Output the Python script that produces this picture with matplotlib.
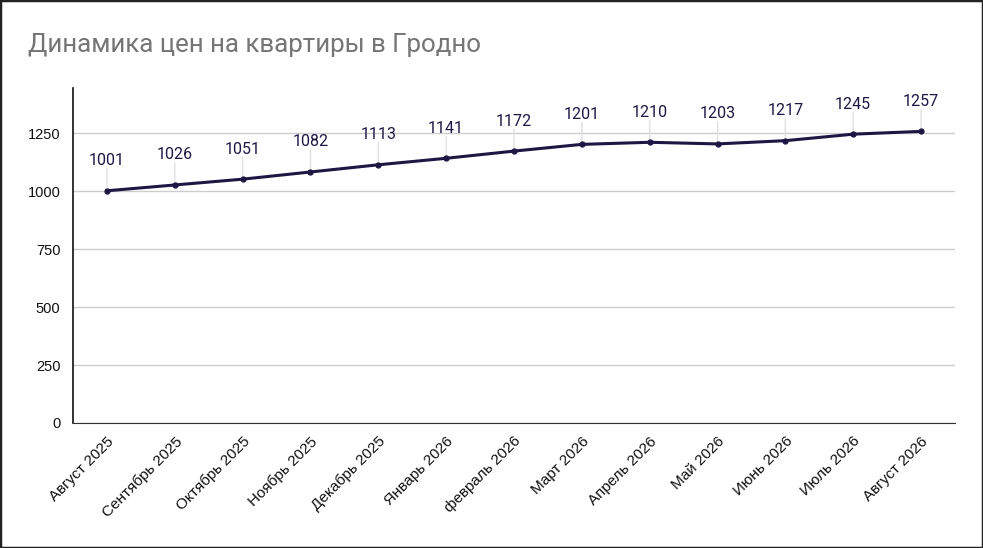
import matplotlib
matplotlib.use("Agg")
import matplotlib.pyplot as plt
from matplotlib.patches import Rectangle

months = ["Август 2025", "Сентябрь 2025", "Октябрь 2025", "Ноябрь 2025", "Декабрь 2025",
          "Январь 2026", "февраль 2026", "Март 2026", "Апрель 2026", "Май 2026",
          "Июнь 2026", "Июль 2026", "Август 2026"]
prices = [1001, 1026, 1051, 1082, 1113, 1141, 1172, 1201, 1210, 1203, 1217, 1245, 1257]
yticks = [0, 250, 500, 750, 1000, 1250]

W, H = 983, 548
fig = plt.figure(figsize=(W/100, H/100), dpi=100)
fig.patch.set_facecolor("white")
fig.add_artist(Rectangle((0, 0), 1, 1, transform=fig.transFigure, fill=False,
                         edgecolor="#222222", linewidth=2.5))

left, right, top, bottom = 73, 955, 88, 423
ax = fig.add_axes([left/W, (H-bottom)/H, (right-left)/W, (bottom-top)/H])

x = list(range(len(months)))
line_color = "#1e1744"
ax.plot(x, prices, color=line_color, linewidth=2.2, marker="o", markersize=3.5, zorder=4)

ax.set_xlim(-0.5, len(months)-0.5)
ax.set_ylim(0, 1444)
ax.set_yticks(yticks)
ax.set_yticklabels([str(v) for v in yticks], fontfamily="Liberation Sans", fontsize=10.5, color="#111111")
ax.grid(axis="y", color="#cccccc", linewidth=1)
ax.set_axisbelow(True)
ax.set_xticks(x)
ax.set_xticklabels(months, rotation=45, ha="right", rotation_mode="anchor",
                   fontfamily="Liberation Sans", fontsize=11, color="#111111")
ax.tick_params(axis="both", length=0)
ax.tick_params(axis="x", pad=8)
ax.tick_params(axis="y", pad=9)
for s in ["top", "right"]:
    ax.spines[s].set_visible(False)
ax.spines["left"].set_color("#111111")
ax.spines["bottom"].set_color("#333333")
ax.spines["left"].set_linewidth(1.2)

for xi, v in zip(x, prices):
    ax.annotate("", xy=(xi, v), xytext=(0, 22), textcoords="offset pixels",
                arrowprops=dict(arrowstyle="-", color="#e0e0e0", lw=1, shrinkA=0, shrinkB=0), zorder=2)
    ax.annotate(str(v), xy=(xi, v), xytext=(0, 30), textcoords="offset pixels",
                ha="center", va="center", fontfamily="Roboto", fontsize=11.5, color="#1e1744", zorder=5)

fig.text(28/W, 1-45/H, "Динамика цен на квартиры в Гродно", fontfamily="Roboto",
         fontsize=18.6, color="#757575", va="center", ha="left")

fig.savefig("out.png", dpi=100)
